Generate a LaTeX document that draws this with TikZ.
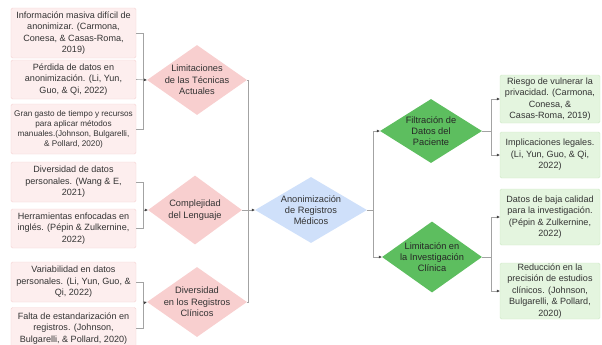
\documentclass[tikz,border=0pt]{standalone}
\usepackage{fontspec}
\setmainfont{Liberation Sans}
\usetikzlibrary{shapes.geometric,arrows.meta}
\definecolor{boxpink}{HTML}{FDEEEE}
\definecolor{linepink}{HTML}{F5D3D3}
\definecolor{diapink}{HTML}{F8CFCF}
\definecolor{diablue}{HTML}{CFE0FA}
\definecolor{diagreen}{HTML}{5DBE5F}
\definecolor{boxgreen}{HTML}{E4F5DF}
\definecolor{linegreen}{HTML}{CFE9C7}
\definecolor{conngray}{HTML}{A3A3A3}
\definecolor{txt}{HTML}{333333}
\begin{document}
\begin{tikzpicture}[x=1bp,y=-1bp]

    \tikzset{
      leftbox/.style={
        draw=linepink,
        fill=boxpink,
        rounded corners=1.5pt,
        align=center,
        text=txt,
        inner sep=0pt,
        minimum width=125bp,
        font=\fontsize{9.1}{11.5}\selectfont,
      },
      rightbox/.style={
        leftbox,
        draw=linegreen,
        fill=boxgreen,
        minimum width=100bp,
      },
      choice/.style={
        diamond,
        align=center,
        text=txt,
        inner sep=-10pt,
        shape aspect=1.45,
        font=\fontsize{9.3}{11.4}\selectfont,
      },
      conn/.style={
        draw=conngray,
        line width=0.6pt,
      },
      arr/.style={
        conn,
        -{Triangle[length=3pt,width=2.6pt,color=black!75]},
      },
    }
    \useasboundingbox (0,0) rectangle (602,344);

	\node[leftbox, minimum height=50bp] (infomasiva) at (73.5,33) {Información masiva difícil de\\anonimizar. (Carmona,\\Conesa, \& Casas-Roma,\\2019)};
	\node[leftbox, minimum height=39bp] (perdida) at (73.5,79.5) {Pérdida de datos en\\anonimización. (Li, Yun,\\Guo, \& Qi, 2022)};
	\node[leftbox, minimum height=50bp, font=\fontsize{8.2}{10}\selectfont] (gasto) at (73.5,129) {Gran gasto de tiempo y recursos\\para aplicar métodos\\manuales.(Johnson, Bulgarelli,\\\& Pollard, 2020)};
	\node[leftbox, minimum height=40bp] (diversdatos) at (73.5,182) {Diversidad de datos\\personales. (Wang \& E,\\2021)};
	\node[leftbox, minimum height=39bp] (herram) at (73.5,228.5) {Herramientas enfocadas en\\inglés. (Pépin \& Zulkernine,\\2022)};
	\node[leftbox, minimum height=40bp] (variab) at (73.5,282) {Variabilidad en datos\\personales. (Li, Yun, Guo, \&\\Qi, 2022)};
	\node[leftbox, minimum height=42bp] (falta) at (73.5,328.5) {Falta de estandarización en\\registros. (Johnson,\\Bulgarelli, \& Pollard, 2020)};

	\node[choice, fill=diapink, minimum width=100bp, minimum height=70bp] (limtec) at (197,80) {Limitaciones\\de las Técnicas\\Actuales};
	\node[choice, fill=diapink, minimum width=94bp, minimum height=69bp] (complej) at (195,210) {Complejidad\\del Lenguaje};
	\node[choice, fill=diapink, minimum width=100bp, minimum height=70bp] (diversreg) at (197,302) {Diversidad\\en los Registros\\Clínicos};
	\node[choice, fill=diablue, minimum width=112bp, minimum height=66bp] (anonim) at (311,210) {Anonimización\\de Registros\\Médicos};
	\node[choice, fill=diagreen, text=black!85, minimum width=102bp, minimum height=64bp] (filtrac) at (431,131) {Filtración de\\Datos del\\Paciente};
	\node[choice, fill=diagreen, text=black!85, minimum width=100bp, minimum height=71bp] (liminv) at (432,257) {Limitación en\\la Investigación\\Clínica};

	\node[rightbox, minimum height=48bp] (riesgo) at (550,99) {Riesgo de vulnerar la\\privacidad. (Carmona,\\Conesa, \&\\Casas-Roma, 2019)};
	\node[rightbox, minimum height=46bp] (legales) at (550,155) {Implicaciones legales.\\(Li, Yun, Guo, \& Qi,\\2022)};
	\node[rightbox, minimum height=56bp] (bajacal) at (550,217) {Datos de baja calidad\\para la investigación.\\(Pépin \& Zulkernine,\\2022)};
	\node[rightbox, minimum height=56bp] (precision) at (550,291) {Reducción en la\\precisión de estudios\\clínicos. (Johnson,\\Bulgarelli, \& Pollard,\\2020)};

	\coordinate (joinlim) at (143,80);
	\coordinate (joincomp) at (143,210);
	\coordinate (joindiv) at (143,303);
	\coordinate (joinmid) at (248,210);
	\coordinate (joinanon) at (373,210);
	\coordinate (joinfilt) at (491,131);
	\coordinate (joinliminv) at (491,257);

	\draw[conn] (infomasiva.east) -| (joinlim);
	\draw[conn] (gasto.east) -| (joinlim);
	\draw[arr] (perdida.east) -- (limtec.west);
	\draw[conn] (diversdatos.east) -| (joincomp);
	\draw[conn] (herram.east) -| (joincomp);
	\draw[arr] (joincomp) -- (complej.west);
	\draw[conn] (variab.east) -| (joindiv);
	\draw[conn] (falta.east) -| (joindiv);
	\draw[arr] (joindiv) -- (diversreg.west);

	\draw[conn] (limtec.east) -| (joinmid);
	\draw[conn] (diversreg.east) -| (joinmid);
	\draw[arr] (complej.east) -- (anonim.west);

	\draw[conn] (anonim.east) -- (joinanon);
	\draw[arr] (joinanon) |- (filtrac.west);
	\draw[arr] (joinanon) |- (liminv.west);

	\draw[conn] (filtrac.east) -- (joinfilt);
	\draw[arr] (joinfilt) |- (riesgo.west);
	\draw[arr] (joinfilt) |- (legales.west);
	\draw[conn] (liminv.east) -- (joinliminv);
	\draw[arr] (joinliminv) |- (bajacal.west);
	\draw[arr] (joinliminv) |- (precision.west);

\end{tikzpicture}
\end{document}
